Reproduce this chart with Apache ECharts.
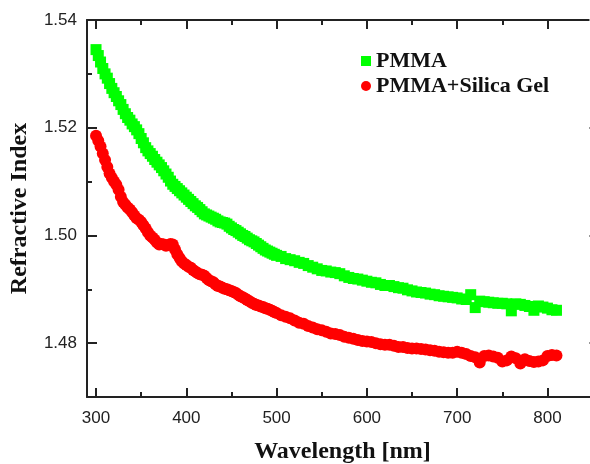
<!DOCTYPE html>
<html><head><meta charset="utf-8">
<script src="https://cdn.jsdelivr.net/npm/echarts@6/dist/echarts.min.js"></script>
<style>html,body{margin:0;padding:0;background:#fff}#c{width:590px;height:464px}</style>
</head><body><div id="c"></div>
<script>
const wavelength = [300,305,310,315,320,325,330,335,340,345,350,355,360,365,370,375,380,385,390,395,400,405,410,415,420,425,430,435,440,445,450,455,460,465,470,475,480,485,490,495,500,505,510,515,520,525,530,535,540,545,550,555,560,565,570,575,580,585,590,595,600,605,610,615,620,625,630,635,640,645,650,655,660,665,670,675,680,685,690,695,700,705,710,715,720,725,730,735,740,745,750,755,760,765,770,775,780,785,790,795,800,805,810];
const pmma = [1.5345,1.5322,1.5300,1.5282,1.5265,1.5250,1.5234,1.5219,1.5207,1.5196,1.5180,1.5163,1.5152,1.5141,1.5131,1.5120,1.5108,1.5095,1.5087,1.5079,1.5071,1.5063,1.5055,1.5048,1.5040,1.5036,1.5032,1.5027,1.5024,1.5021,1.5014,1.5009,1.5003,1.4998,1.4992,1.4988,1.4982,1.4976,1.4971,1.4967,1.4963,1.4961,1.4957,1.4955,1.4953,1.4950,1.4948,1.4944,1.4941,1.4938,1.4935,1.4934,1.4932,1.4931,1.4929,1.4925,1.4922,1.4920,1.4919,1.4917,1.4915,1.4913,1.4912,1.4909,1.4907,1.4907,1.4905,1.4903,1.4902,1.4899,1.4897,1.4895,1.4894,1.4893,1.4891,1.4890,1.4888,1.4887,1.4886,1.4885,1.4884,1.4882,1.4881,1.4890,1.4866,1.4878,1.4877,1.4876,1.4875,1.4874,1.4874,1.4873,1.4860,1.4873,1.4872,1.4870,1.4868,1.4861,1.4869,1.4867,1.4865,1.4862,1.4861];
const pmmaSilica = [1.5185,1.5165,1.5140,1.5115,1.5100,1.5085,1.5062,1.5052,1.5043,1.5032,1.5025,1.5013,1.5000,1.4992,1.4983,1.4983,1.4982,1.4983,1.4965,1.4952,1.4945,1.4940,1.4933,1.4928,1.4925,1.4917,1.4913,1.4906,1.4903,1.4900,1.4897,1.4893,1.4887,1.4883,1.4878,1.4873,1.4870,1.4867,1.4864,1.4860,1.4856,1.4852,1.4849,1.4846,1.4842,1.4838,1.4836,1.4832,1.4829,1.4826,1.4824,1.4821,1.4818,1.4817,1.4815,1.4812,1.4810,1.4808,1.4806,1.4804,1.4803,1.4802,1.4800,1.4798,1.4797,1.4797,1.4795,1.4793,1.4793,1.4791,1.4790,1.4790,1.4789,1.4788,1.4787,1.4786,1.4784,1.4783,1.4782,1.4782,1.4784,1.4782,1.4780,1.4776,1.4774,1.4764,1.4776,1.4777,1.4775,1.4773,1.4766,1.4768,1.4775,1.4772,1.4762,1.4770,1.4767,1.4765,1.4766,1.4768,1.4776,1.4778,1.4777];
// additional readings in the steep part of the curves (half steps)
const wavelengthFine = [302.5,307.5,312.5,317.5,322.5,327.5,332.5,337.5,342.5,347.5,352.5,357.5,362.5,367.5,372.5,377.5,382.5,387.5,392.5,397.5,402.5,407.5,412.5,417.5,422.5,427.5,432.5,437.5,442.5,447.5,452.5,457.5,462.5,467.5,472.5,477.5,482.5,487.5,492.5,497.5];
const pmmaFine = [1.5334,1.5310,1.5292,1.5273,1.5258,1.5243,1.5226,1.5214,1.5202,1.5189,1.5172,1.5157,1.5147,1.5136,1.5126,1.5114,1.5101,1.5091,1.5083,1.5075,1.5067,1.5059,1.5052,1.5044,1.5038,1.5034,1.5030,1.5025,1.5023,1.5017,1.5011,1.5006,1.5000,1.4995,1.4990,1.4985,1.4979,1.4973,1.4969,1.4965];
const pmmaSilicaFine = [1.5176,1.5152,1.5127,1.5107,1.5094,1.5072,1.5057,1.5048,1.5037,1.5029,1.5019,1.5006,1.4996,1.4987,1.4984,1.4981,1.4984,1.4974,1.4958,1.4948,1.4942,1.4936,1.4930,1.4927,1.4921,1.4915,1.4909,1.4905,1.4901,1.4898,1.4895,1.4890,1.4885,1.4880,1.4875,1.4871,1.4868,1.4865,1.4862,1.4858];
const xMajorTicks = [300,400,500,600,700,800];
const xMinorTicks = [350,450,550,650,750,850];
const yMajorTicks = [1.48,1.50,1.52,1.54];
const yMinorTicks = [1.49,1.51,1.53];
const seriesNames = ['PMMA','PMMA+Silica Gel'];

const XMIN=290, XMAX=856, YMIN=1.47, YMAX=1.54;
const axisCol = '#222';
function xAx(pos, ticks, len, showLine, labels, col){
  return {type:'value', position:pos, min:XMIN, max:XMAX, splitLine:{show:false},
    axisLine:{show:showLine, onZero:false, lineStyle:{color:axisCol, width:2}},
    axisTick:{show:true, inside:true, length:len, customValues:ticks, lineStyle:{color:col||axisCol, width:2}},
    axisLabel:labels?{show:true, customValues:xMajorTicks, color:'#222', fontFamily:'Liberation Sans', fontSize:17, margin:13}:{show:false}};
}
function yAx(pos, ticks, len, showLine, labels, col){
  return {type:'value', position:pos, min:YMIN, max:YMAX, splitLine:{show:false},
    axisLine:{show:showLine, onZero:false, lineStyle:{color:axisCol, width:2}},
    axisTick:{show:true, inside:true, length:len, customValues:ticks, lineStyle:{color:col||axisCol, width:2}},
    axisLabel:labels?{show:true, customValues:yMajorTicks, formatter:v=>v.toFixed(2), color:'#222', fontFamily:'Liberation Sans', fontSize:17, margin:10}:{show:false}};
}
const xAxes = [
  Object.assign(xAx('bottom', xMajorTicks, 9, true, true), {name:'Wavelength [nm]', nameLocation:'middle', nameGap:43,
    nameTextStyle:{fontFamily:'Liberation Serif', fontWeight:'bold', fontSize:24, color:'#111'}}),
  xAx('bottom', xMinorTicks, 5, false, false),
  xAx('top', xMajorTicks, 9, true, false),
  xAx('top', xMinorTicks, 5, false, false)
];
const yAxes = [
  Object.assign(yAx('left', yMajorTicks, 10, true, true), {name:'Refractive Index', nameLocation:'middle', nameGap:55,
    nameTextStyle:{fontFamily:'Liberation Serif', fontWeight:'bold', fontSize:24, color:'#111'}}),
  yAx('left', yMinorTicks, 5, false, false),
  yAx('right', yMajorTicks, 9, false, false, '#999'),
  yAx('right', yMinorTicks, 5, false, false, '#999')
];
function pts(xs, ys){ return xs.map((w,i)=>[w, ys[i]]); }
const chart = echarts.init(document.getElementById('c'), null, {renderer:'canvas'});
chart.setOption({
  animation:false,
  backgroundColor:'#fff',
  grid:{left:87, top:20, width:511, height:377, containLabel:false, outerBoundsMode:'none'},
  xAxis:xAxes,
  yAxis:yAxes,
  legend:{data:seriesNames, orient:'vertical', left:356, top:45, itemWidth:10, itemHeight:10, itemGap:3,
    textStyle:{fontFamily:'Liberation Serif', fontWeight:'bold', fontSize:22, color:'#111'}},
  series:[
    {name:seriesNames[0], type:'scatter', symbol:'rect', symbolSize:11, itemStyle:{color:'#00ff00', opacity:1},
      data:pts(wavelength, pmma).concat(pts(wavelengthFine, pmmaFine))},
    {name:seriesNames[1], type:'scatter', symbol:'circle', symbolSize:12, itemStyle:{color:'#ff0000', opacity:1},
      data:pts(wavelength, pmmaSilica).concat(pts(wavelengthFine, pmmaSilicaFine))}
  ]
});
</script></body></html>
